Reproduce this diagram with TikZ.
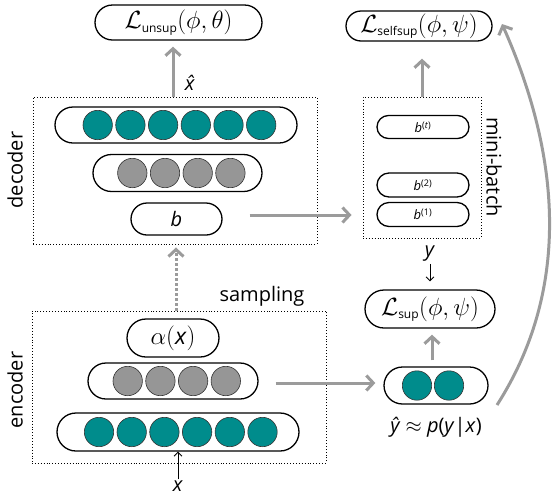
\documentclass[tikz,border=0pt]{standalone}
\usepackage{fontspec}
\setmainfont{Open Sans}
\newcommand{\mi}[1]{\textit{#1}}
\newcommand{\subs}[1]{\mbox{\fontsize{12}{14}\selectfont #1}}
\usetikzlibrary{arrows.meta,shapes.misc}
\definecolor{tealc}{RGB}{0,140,140}
\definecolor{arrg}{RGB}{155,155,155}
\definecolor{cgray}{RGB}{150,150,150}
\tikzset{
  pill/.style={draw, line width=1.3pt, rounded rectangle, inner sep=0pt},
  tc/.style={circle, fill=tealc, draw=black!80, line width=0.6pt, minimum size=29.4pt, inner sep=0pt},
  gc/.style={circle, fill=cgray, draw=black!80, line width=0.6pt, minimum size=29.4pt, inner sep=0pt},
  dotbox/.style={draw, dotted, line width=0.9pt, inner sep=0pt},
  garrow/.style={draw=arrg, line width=3pt, -{Straight Barb[length=7pt,width=15pt,line width=3pt]}},
  karrow/.style={draw=black, line width=0.8pt, -{Straight Barb[length=4pt,width=8pt]}},
  lbl/.style={inner sep=0pt},
  small/.style={font=\fontsize{13}{15}\selectfont},
  mth/.style={font=\fontsize{23}{27}\selectfont},
}
\begin{document}
\begin{tikzpicture}[x=1pt,y=-1pt, font=\fontsize{20}{24}\selectfont]
\useasboundingbox (0,0) rectangle (554,499);
% decoder
\node[dotbox, minimum width=284pt, minimum height=147pt] (dec) at (175,170.5) {};
\node[pill, minimum width=242pt, minimum height=36pt] (dt) at (176,125) {};
\foreach \i in {0,...,5} \node[tc] (dtc\i) at (97.7+32.7*\i,125) {};
\node[pill, minimum width=169pt, minimum height=37pt] (dg) at (177.5,173) {};
\foreach \i in {0,...,3} \node[gc] (dgc\i) at (132.3+32.7*\i,173) {};
\node[pill, minimum width=91pt, minimum height=32pt] (b) at (176.5,219) {\mi{b}};
\node[rotate=90, lbl] (declbl) at (15,170) {decoder};
\node[pill, mth, minimum width=167pt, minimum height=35pt] (Lunsup) at (178.5,22.5) {$\mathcal{L}_{\subs{unsup}}(\phi,\theta)$};
\node[lbl] (xhat) at (192,83) {\mi{\^{x}}};
% minibatch
\node[dotbox, minimum width=118pt, minimum height=141pt] (mb) at (422,167.5) {};
\node[pill, small, minimum width=92pt, minimum height=23pt] (bt) at (423,127) {\mi{b}\textsuperscript{(\mi{t})}};
\node[pill, small, minimum width=92pt, minimum height=24pt] (b2) at (423,185) {\mi{b}\textsuperscript{(2)}};
\node[pill, small, minimum width=92pt, minimum height=24pt] (b1) at (423,214.5) {\mi{b}\textsuperscript{(1)}};
\node[rotate=-90, lbl] (mblbl) at (494,167) {mini-batch};
\node[pill, mth, minimum width=146pt, minimum height=30pt] (Lself) at (419,26) {$\mathcal{L}_{\subs{selfsup}}(\phi,\psi)$};
% encoder
\node[dotbox, minimum width=294pt, minimum height=152pt] (enc) at (179,387) {};
\node[pill, mth, minimum width=92pt, minimum height=38pt] (alpha) at (173,338) {$\alpha($\mi{x}$)$};
\node[pill, minimum width=170pt, minimum height=36pt] (eg) at (173,381) {};
\foreach \i in {0,...,3} \node[gc] (egc\i) at (127.7+32.7*\i,381) {};
\node[pill, minimum width=242pt, minimum height=38pt] (et) at (178,432) {};
\foreach \i in {0,...,5} \node[tc] (etc\i) at (99+32.7*\i,432) {};
\node[rotate=90, lbl] (enclbl) at (15,390) {encoder};
\node[lbl] (xlbl) at (178,486) {\mi{x}};
\node[lbl] (samp) at (262,296) {sampling};
% right side
\node[pill, minimum width=104pt, minimum height=37pt] (yh) at (436,385.5) {};
\node[tc] (yc0) at (417,385.5) {};
\node[tc] (yc1) at (449,385.5) {};
\node[lbl] (yhlbl) at (436,427) {\mi{\^{y}} $\approx$ \mi{p}(\mi{y}|\mi{x})};
\node[pill, mth, minimum width=130pt, minimum height=38pt] (Lsup) at (430,309) {$\mathcal{L}_{\subs{sup}}(\phi,\psi)$};
\node[lbl] (ylbl) at (430,254) {\mi{y}};
% connectors
\draw[garrow, shorten >=6pt] (dec.north -| 173,0) -- (Lunsup.south -| 173,0);
\draw[garrow, shorten <=27pt, shorten >=11pt] (b.east |- 0,215) -- (mb.west |- 0,215);
\draw[garrow, shorten >=17pt] (mb.north) -- (Lself.south -| mb.north);
\draw[garrow, dotted, shorten >=3pt] (enc.north -| 176,0) -- (dec.south -| 176,0);
\draw[garrow, shorten <=17pt, shorten >=8pt] (eg.east |- 0,383) -- (yh.west |- 0,383);
\draw[garrow, shorten <=6pt, shorten >=6pt] (yh.north -| 432,0) -- (Lsup.south -| 432,0);
\coordinate (cs) at (497,405);
\coordinate (ce) at (502,24);
\draw[garrow] (cs) .. controls (569,292.5) and (563,161) .. (ce);
\draw[karrow, shorten <=1pt] (xlbl.north) -- (et.south -| xlbl.north);
\draw[karrow, shorten <=2pt, shorten >=8pt] (ylbl.south) -- (Lsup.north);
\end{tikzpicture}
\end{document}
